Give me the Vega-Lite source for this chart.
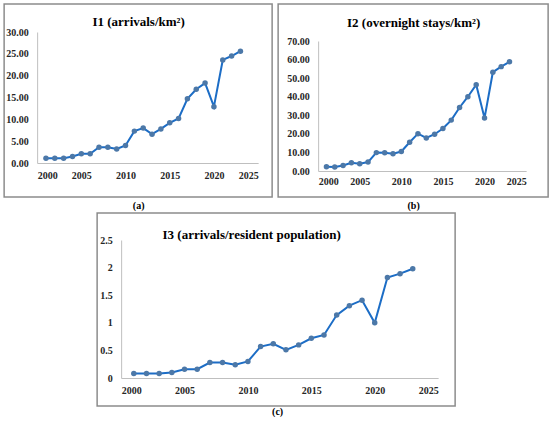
{
  "$schema": "https://vega.github.io/schema/vega-lite/v6.json",
  "background": "white",
  "padding": {"left": 3, "top": 3, "right": 3, "bottom": 0},
  "spacing": 1,
  "center": true,
  "config": {
    "font": "Liberation Serif",
    "view": {"stroke": "#8c8c8c", "strokeWidth": 1.5},
    "axis": {
      "grid": false,
      "ticks": false,
      "domainColor": "#bfbfbf",
      "domainWidth": 1,
      "labelFont": "Liberation Serif",
      "labelFontWeight": "bold",
      "labelFontSize": 10,
      "labelColor": "#262626",
      "labelPadding": 7,
      "titleFont": "Liberation Serif",
      "titleFontWeight": "bold",
      "titleFontSize": 10,
      "titleColor": "#000000",
      "titleBaseline": "middle",
      "titleAlign": "center"
    },
    "axisY": {"titleAngle": 0, "titleFontSize": 13, "labelPadding": 9},
    "line": {"color": "#1c6dc6", "strokeWidth": 2, "point": {"filled": true, "size": 50, "color": "#1c6dc6", "opacity": 1}}
  },
  "datasets": {
    "tourism": [
      {"year": 2001, "i1": 1.1, "i2": 2.3, "i3": 0.08},
      {"year": 2002, "i1": 1.1, "i2": 2.1, "i3": 0.08},
      {"year": 2003, "i1": 1.1, "i2": 3.0, "i3": 0.08},
      {"year": 2004, "i1": 1.5, "i2": 4.4, "i3": 0.1},
      {"year": 2005, "i1": 2.1, "i2": 3.9, "i3": 0.16},
      {"year": 2006, "i1": 2.1, "i2": 4.8, "i3": 0.16},
      {"year": 2007, "i1": 3.6, "i2": 9.9, "i3": 0.28},
      {"year": 2008, "i1": 3.6, "i2": 9.8, "i3": 0.28},
      {"year": 2009, "i1": 3.2, "i2": 9.3, "i3": 0.24},
      {"year": 2010, "i1": 4.0, "i2": 10.5, "i3": 0.3},
      {"year": 2011, "i1": 7.3, "i2": 15.5, "i3": 0.57},
      {"year": 2012, "i1": 8.0, "i2": 20.1, "i3": 0.62},
      {"year": 2013, "i1": 6.6, "i2": 17.8, "i3": 0.51},
      {"year": 2014, "i1": 7.8, "i2": 19.8, "i3": 0.6},
      {"year": 2015, "i1": 9.2, "i2": 22.9, "i3": 0.72},
      {"year": 2016, "i1": 10.2, "i2": 27.4, "i3": 0.78},
      {"year": 2017, "i1": 14.7, "i2": 34.2, "i3": 1.14},
      {"year": 2018, "i1": 16.9, "i2": 40.0, "i3": 1.31},
      {"year": 2019, "i1": 18.3, "i2": 46.5, "i3": 1.41},
      {"year": 2020, "i1": 12.9, "i2": 28.5, "i3": 1.0},
      {"year": 2021, "i1": 23.6, "i2": 53.2, "i3": 1.82},
      {"year": 2022, "i1": 24.5, "i2": 56.2, "i3": 1.89},
      {"year": 2023, "i1": 25.6, "i2": 58.8, "i3": 1.98}
    ]
  },
  "vconcat": [
    {
      "hconcat": [
        {
          "width": 268,
          "height": 193,
          "data": {"name": "tourism"},
          "mark": {"type": "line", "point": true},
          "encoding": {
            "x": {
              "field": "year",
              "type": "quantitative",
              "scale": {"domain": [2000, 2025], "range": [33, 254], "nice": false, "zero": false},
              "axis": {"values": [2000, 2005, 2010, 2015, 2020, 2025], "format": "d", "offset": -34, "title": "(a)", "titleX": 134, "titleY": 42}
            },
            "y": {
              "field": "i1",
              "type": "quantitative",
              "scale": {"domain": [0, 30], "range": [159, 28], "nice": false},
              "axis": {"values": [0, 5, 10, 15, 20, 25, 30], "format": ".2f", "offset": -33, "title": "I1 (arrivals/km²)", "titleX": 101, "titleY": 17}
            }
          }
        },
        {
          "width": 270,
          "height": 193,
          "data": {"name": "tourism"},
          "mark": {"type": "line", "point": true},
          "encoding": {
            "x": {
              "field": "year",
              "type": "quantitative",
              "scale": {"domain": [2000, 2025], "range": [40, 248], "nice": false, "zero": false},
              "axis": {"values": [2000, 2005, 2010, 2015, 2020, 2025], "format": "d", "offset": -26, "labelPadding": 5, "title": "(b)", "titleX": 135, "titleY": 34}
            },
            "y": {
              "field": "i2",
              "type": "quantitative",
              "scale": {"domain": [0, 70], "range": [167, 37], "nice": false},
              "axis": {"values": [0, 10, 20, 30, 40, 50, 60, 70], "format": ".2f", "offset": -40, "title": "I2 (overnight stays/km²)", "titleX": 95, "titleY": 18}
            }
          }
        }
      ],
      "spacing": 6,
      "bounds": "flush"
    },
    {
      "width": 358,
      "height": 193,
      "data": {"name": "tourism"},
      "mark": {"type": "line", "point": true},
      "encoding": {
        "x": {
          "field": "year",
          "type": "quantitative",
          "scale": {"domain": [2000, 2025], "range": [24, 341], "nice": false, "zero": false},
          "axis": {"values": [2000, 2005, 2010, 2015, 2020, 2025], "format": "d", "offset": -28, "labelPadding": 7, "title": "(c)", "titleX": 180, "titleY": 33}
        },
        "y": {
          "field": "i3",
          "type": "quantitative",
          "scale": {"domain": [0, 2.5], "range": [165, 27], "nice": false},
          "axis": {"values": [0, 0.5, 1, 1.5, 2, 2.5], "format": "~g", "offset": -24, "title": "I3 (arrivals/resident population)", "titleX": 130, "titleY": 21}
        }
      }
    }
  ]
}
